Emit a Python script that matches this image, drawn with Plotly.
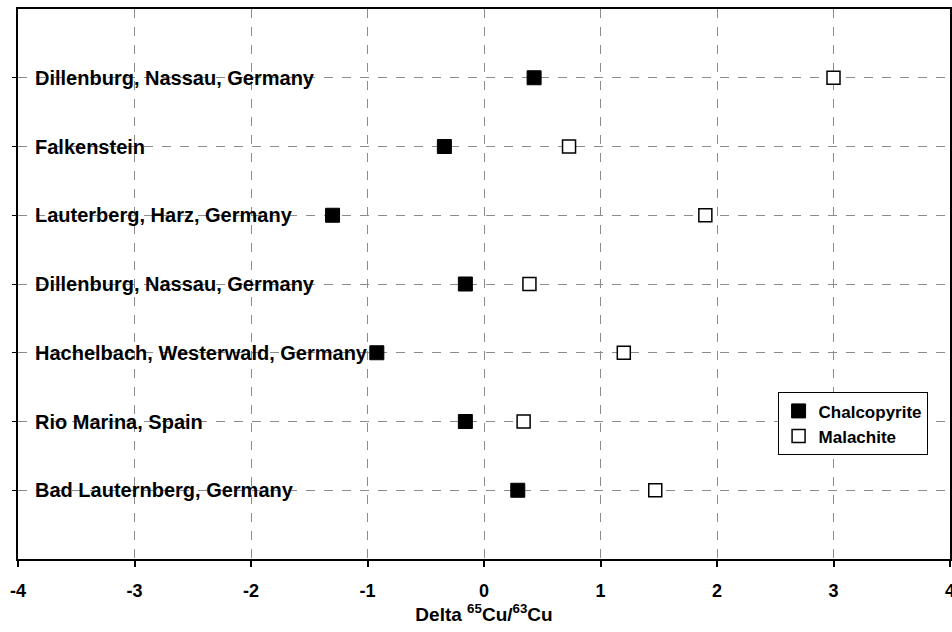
import plotly.graph_objects as go

# Data (bottom to top)
locations = [
    "Bad Lauternberg, Germany",
    "Rio Marina, Spain",
    "Hachelbach, Westerwald, Germany",
    "Dillenburg, Nassau, Germany ",
    "Lauterberg, Harz, Germany",
    "Falkenstein",
    "Dillenburg, Nassau, Germany",
]
chalcopyrite = [0.29, -0.16, -0.92, -0.16, -1.30, -0.34, 0.43]
malachite = [1.47, 0.34, 1.20, 0.39, 1.90, 0.73, 3.00]
x_ticks = [-4, -3, -2, -1, 0, 1, 2, 3, 4]
x_tick_labels = ["-4", "-3", "-2", "-1", "0", "1", "2", "3", "4"]

FONT = "Liberation Sans, Arial, Helvetica, sans-serif"

fig = go.Figure()
fig.add_trace(go.Scatter(
    x=chalcopyrite, y=locations, mode="markers", name="Chalcopyrite",
    legendgroup="a",
    marker=dict(symbol="square", size=14, color="black", line=dict(color="black", width=1)),
))
fig.add_trace(go.Scatter(
    x=malachite, y=locations, mode="markers", name="Malachite",
    legendgroup="b",
    marker=dict(symbol="square", size=13, color="white", line=dict(color="black", width=1.5)),
))

for loc in locations:
    fig.add_annotation(
        x=-4, y=loc, xref="x", yref="y", text=loc.strip(),
        showarrow=False, xanchor="left", yanchor="middle", xshift=15,
        font=dict(family=FONT, size=20, color="black", weight="bold"),
    )

fig.update_layout(
    width=952, height=632,
    margin=dict(l=18, r=2, t=9, b=73, autoexpand=False),
    paper_bgcolor="white", plot_bgcolor="white",
    font=dict(family=FONT, color="black"),
    showlegend=True,
    legend=dict(
        x=0.815, y=0.303, xanchor="left", yanchor="top",
        bgcolor="white", bordercolor="black", borderwidth=1,
        font=dict(family=FONT, size=17, color="black", weight="bold"),
        itemwidth=30, tracegroupgap=0,
    ),
)
fig.update_xaxes(
    range=[-4, 4], tickvals=x_ticks,
    ticktext=["<b>%s</b>" % t for t in x_tick_labels],
    tickfont=dict(family=FONT, size=18, color="black", weight="bold"),
    ticklabeloverflow="allow", ticklabelstandoff=8, automargin=False,
    showgrid=True, gridcolor="#8c8c8c", griddash="dash", gridwidth=1,
    showline=True, linecolor="black", linewidth=2, mirror=True,
    ticks="outside", ticklen=6, tickcolor="black", tickwidth=1.5,
    zeroline=False,
    title=dict(text="Delta <sup>65</sup>Cu/<sup>63</sup>Cu",
               font=dict(family=FONT, size=19, color="black", weight="bold"), standoff=2),
)
fig.update_yaxes(
    type="category", categoryorder="array", categoryarray=locations,
    range=[-1, 7], showticklabels=False, automargin=False,
    showgrid=True, gridcolor="#8c8c8c", griddash="dash", gridwidth=1,
    showline=True, linecolor="black", linewidth=2, mirror=True,
    ticks="outside", ticklen=4, tickcolor="black", zeroline=False,
)

fig.write_html("out.html")
